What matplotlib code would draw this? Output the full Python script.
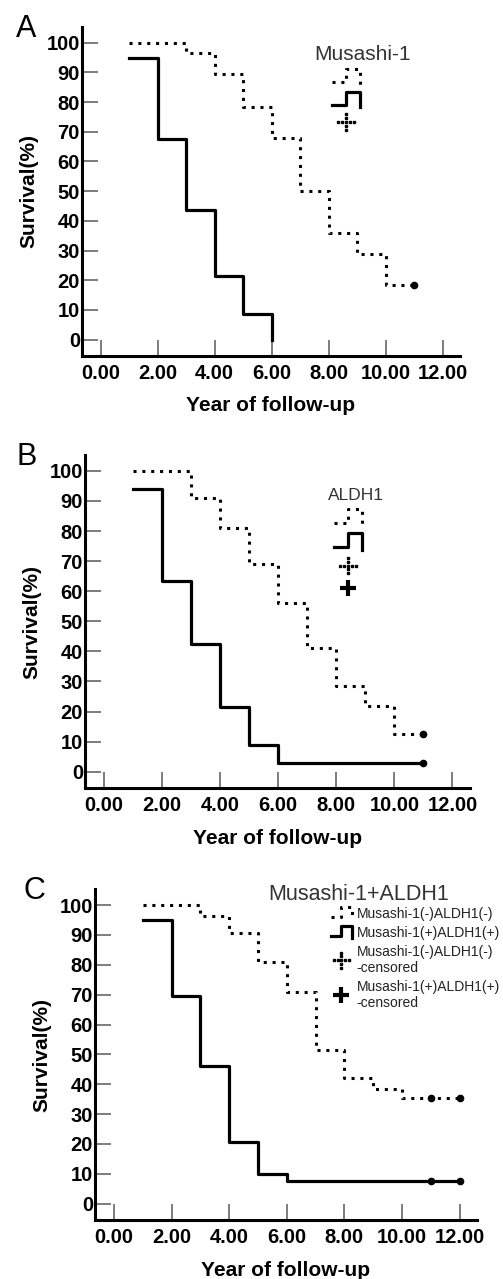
import matplotlib
matplotlib.use("Agg")
import matplotlib.pyplot as plt
from matplotlib.legend_handler import HandlerBase
from matplotlib.lines import Line2D

plt.rcParams["font.family"] = ["Liberation Sans", "DejaVu Sans"]

# Kaplan-Meier steps (year, survival %)
a_neg_x = [1, 3, 4, 5, 6, 7, 8, 9, 10, 11]
a_neg_y = [100, 96.5, 89.5, 78.5, 68, 50, 36, 29, 18.5, 18.5]
a_pos_x = [1, 2, 3, 4, 5, 6]
a_pos_y = [95, 67.5, 43.5, 21.5, 8.5, 0]
a_cens_neg_x = [11]
a_cens_neg_y = [18.5]
a_cens_pos_x = []
a_cens_pos_y = []

b_neg_x = [1, 3, 4, 5, 6, 7, 8, 9, 10, 11]
b_neg_y = [100, 91, 81, 69, 56, 41, 28.5, 22, 12.5, 12.5]
b_pos_x = [1, 2, 3, 4, 5, 6, 11]
b_pos_y = [94, 63.5, 42.5, 21.5, 9, 3, 3]
b_cens_neg_x = [11]
b_cens_neg_y = [12.5]
b_cens_pos_x = [11]
b_cens_pos_y = [3]

c_neg_x = [1, 3, 4, 5, 6, 7, 8, 9, 10, 12]
c_neg_y = [100, 96.5, 90.5, 81, 71, 51.5, 42, 38.5, 35.5, 35.5]
c_pos_x = [1, 2, 3, 4, 5, 6, 12]
c_pos_y = [95, 69.5, 46, 20.5, 10, 7.5, 7.5]
c_cens_neg_x = [11, 12]
c_cens_neg_y = [35.5, 35.5]
c_cens_pos_x = [11, 12]
c_cens_pos_y = [7.5, 7.5]

x_ticks = [0, 2, 4, 6, 8, 10, 12]
x_tick_labels = ["0.00", "2.00", "4.00", "6.00", "8.00", "10.00", "12.00"]
y_ticks = [0, 10, 20, 30, 40, 50, 60, 70, 80, 90, 100]
y_tick_labels = ["0", "10", "20", "30", "40", "50", "60", "70", "80", "90", "100"]

panel_letters = ["A", "B", "C"]
panel_titles = ["Musashi-1", "ALDH1", "Musashi-1+ALDH1"]
legend_labels_c = ["Musashi-1(-)ALDH1(-)", "Musashi-1(+)ALDH1(+)",
                   "Musashi-1(-)ALDH1(-)\n-censored", "Musashi-1(+)ALDH1(+)\n-censored"]


class StepGlyph(HandlerBase):
    def create_artists(self, legend, orig_handle, xdescent, ydescent,
                       width, height, fontsize, trans):
        x0, y0 = -xdescent, -ydescent
        xs = [x0, x0 + 0.5 * width, x0 + 0.5 * width, x0 + width, x0 + width]
        ys = [y0 + 0.15 * height, y0 + 0.15 * height, y0 + height, y0 + height, y0]
        glyph = Line2D(xs, ys)
        glyph.update_from(orig_handle)
        glyph.set_transform(trans)
        return [glyph]


class DotCross(HandlerBase):
    def create_artists(self, legend, orig_handle, xdescent, ydescent,
                       width, height, fontsize, trans):
        cx = -xdescent + width / 2
        cy = -ydescent + height / 2
        d = 0.28 * fontsize
        xs = [cx, cx - d, cx - 2 * d, cx + d, cx + 2 * d, cx, cx, cx, cx]
        ys = [cy, cy, cy, cy, cy, cy - d, cy - 2 * d, cy + d, cy + 2 * d]
        dots = Line2D(xs, ys, ls="none", marker="s", ms=1.7, color="black")
        dots.set_transform(trans)
        return [dots]


fig = plt.figure(figsize=(5.03, 12.79), dpi=100)

# axes rectangles in figure fractions (spine positions)
rects = [[0.163, 0.7217, 0.751, 0.2572],
         [0.169, 0.3837, 0.765, 0.2606],
         [0.189, 0.0461, 0.759, 0.2586]]

panels = [
    (a_neg_x, a_neg_y, a_pos_x, a_pos_y, a_cens_neg_x, a_cens_neg_y, a_cens_pos_x, a_cens_pos_y),
    (b_neg_x, b_neg_y, b_pos_x, b_pos_y, b_cens_neg_x, b_cens_neg_y, b_cens_pos_x, b_cens_pos_y),
    (c_neg_x, c_neg_y, c_pos_x, c_pos_y, c_cens_neg_x, c_cens_neg_y, c_cens_pos_x, c_cens_pos_y),
]
title_pos = [(9.19, 96.0, 15), (8.67, 91.9, 12.5), (8.5, 103.6, 15.5)]
letter_pos = [(0.052, 0.977), (0.052, 0.643), (0.068, 0.303)]
legend_anchor = [(0.660, 0.946), (0.664, 0.602), (0.658, 0.291)]
legend_shape = [(2.0, 1.35, 0.5), (2.0, 1.45, 0.55), (1.5, 1.0, 0.35)]

for i, ax_rect in enumerate(rects):
    nx, ny, px, py, cnx, cny, cpx, cpy = panels[i]
    ax = fig.add_axes(ax_rect)
    neg_line, = ax.step(nx, ny, where="post", color="black", lw=2.2,
                        linestyle=(0, (1, 1.9)))
    pos_line, = ax.step(px, py, where="post", color="black", lw=2.3)
    ax.plot(cnx, cny, "o", color="black", ms=4.5)
    ax.plot(cpx, cpy, "o", color="black", ms=4.5)

    ax.set_xlim(-0.66, 12.6)
    ax.set_ylim(-5.5, 105.3)
    ax.set_xticks(x_ticks)
    ax.set_xticklabels(x_tick_labels, fontweight="bold", fontsize=14.5)
    ax.set_yticks(y_ticks)
    ax.set_yticklabels(y_tick_labels, fontweight="bold", fontsize=14.5)
    ax.tick_params(axis="both", direction="in", length=11.5, width=1.2, color="#666666")
    ax.tick_params(axis="x", pad=5.5)
    ax.tick_params(axis="y", pad=1.5)
    for side in ["top", "right"]:
        ax.spines[side].set_visible(False)
    for side in ["left", "bottom"]:
        ax.spines[side].set_linewidth(2.2)
    ax.set_xlabel("Year of follow-up", fontsize=15, fontweight="bold", labelpad=10)
    ax.set_ylabel("Survival(%)", fontsize=15, fontweight="bold", labelpad=6)

    tx, ty, tfs = title_pos[i]
    ax.text(tx, ty, panel_titles[i], ha="center", va="center", fontsize=tfs, color="#333333")
    fig.text(letter_pos[i][0], letter_pos[i][1], panel_letters[i], ha="center", va="center",
             fontsize=22)

    cens_neg = Line2D([], [], ls="none", color="black")
    cens_pos = Line2D([], [], ls="none", marker="+", ms=11, mew=3, color="black")
    hmap = {neg_line: StepGlyph(), pos_line: StepGlyph(), cens_neg: DotCross()}
    if i == 0:
        handles = [neg_line, pos_line, cens_neg]
        labels = ["", "", ""]
    elif i == 1:
        handles = [neg_line, pos_line, cens_neg, cens_pos]
        labels = ["", "", "", ""]
    else:
        handles = [neg_line, pos_line, cens_neg, cens_pos]
        labels = legend_labels_c
    hl, hh, ls_ = legend_shape[i]
    leg = ax.legend(handles, labels, handler_map=hmap, loc="upper left",
                    bbox_to_anchor=legend_anchor[i], bbox_transform=fig.transFigure,
                    frameon=False, fontsize=10, handlelength=hl, handleheight=hh,
                    handletextpad=0.35, labelspacing=ls_, borderpad=0, borderaxespad=0)
    for t in leg.get_texts():
        t.set_color("#222222")

fig.savefig("out.png", dpi=100)
